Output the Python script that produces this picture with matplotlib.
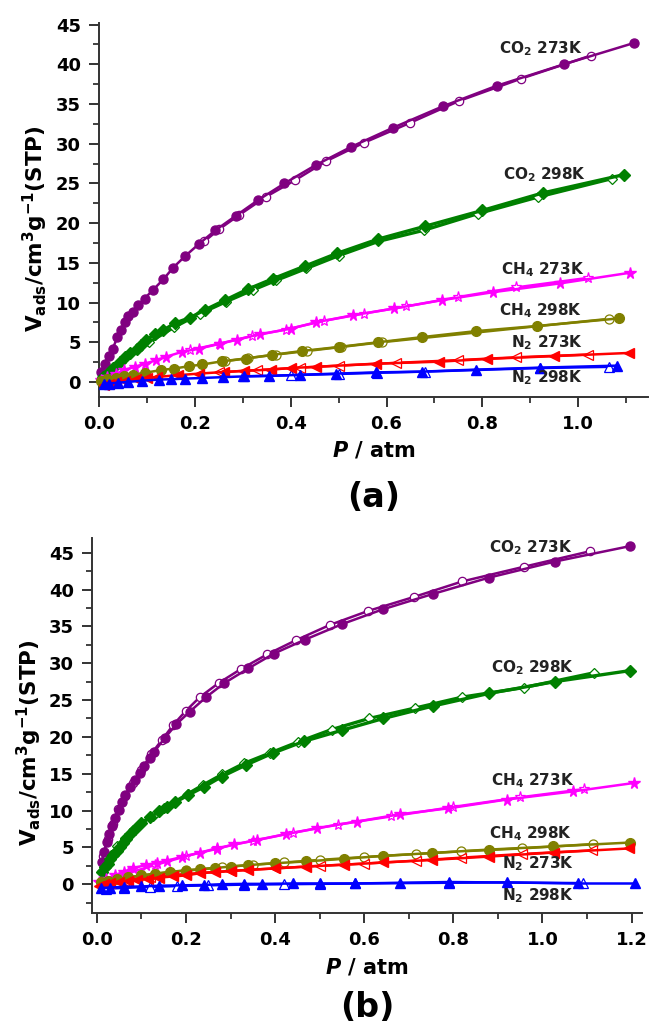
import matplotlib
matplotlib.use('Agg')
import matplotlib.pyplot as plt
from matplotlib.ticker import MultipleLocator

plt.rcParams['font.family'] = ['DejaVu Sans']
plt.rcParams['font.weight'] = 'bold'
plt.rcParams['mathtext.default'] = 'bf'

# ---------------- panel (a) ----------------
a_co2_273_ads_x = [0.005, 0.012, 0.02, 0.029, 0.038, 0.045, 0.054, 0.061, 0.071, 0.082, 0.095, 0.113, 0.134, 0.155, 0.179, 0.209, 0.243, 0.285, 0.332, 0.387, 0.452, 0.526, 0.613, 0.717, 0.830, 0.970, 1.117]
a_co2_273_ads_y = [1.3, 2.3, 3.3, 4.2, 5.6, 6.5, 7.6, 8.3, 8.8, 9.7, 10.5, 11.6, 12.9, 14.4, 15.8, 17.4, 19.1, 20.9, 22.9, 25.0, 27.3, 29.6, 32.0, 34.7, 37.3, 40.0, 42.7]
a_co2_273_des_x = [1.026, 0.881, 0.752, 0.648, 0.552, 0.474, 0.409, 0.348, 0.292, 0.250, 0.220]
a_co2_273_des_y = [41.1, 38.2, 35.4, 32.6, 30.1, 27.8, 25.4, 23.3, 21.0, 19.2, 17.7]

a_co2_298_ads_x = [0.008, 0.017, 0.03, 0.043, 0.055, 0.065, 0.079, 0.087, 0.099, 0.116, 0.134, 0.158, 0.19, 0.222, 0.263, 0.311, 0.363, 0.43, 0.497, 0.583, 0.68, 0.8, 0.926, 1.095]
a_co2_298_ads_y = [0.6, 1.05, 1.8, 2.5, 3.1, 3.6, 4.2, 4.6, 5.3, 6.0, 6.5, 7.4, 8.1, 9.1, 10.3, 11.7, 13.0, 14.6, 16.2, 18.0, 19.6, 21.6, 23.8, 26.1]
a_co2_298_des_x = [1.07, 0.917, 0.791, 0.678, 0.583, 0.5, 0.433, 0.37, 0.322, 0.265, 0.211, 0.157, 0.105]
a_co2_298_des_y = [25.6, 23.3, 21.2, 19.1, 17.7, 15.9, 14.3, 12.8, 11.6, 10.1, 8.6, 6.9, 5.0]

a_ch4_273_ads_x = [0.005, 0.017, 0.035, 0.052, 0.075, 0.096, 0.118, 0.139, 0.174, 0.209, 0.252, 0.287, 0.335, 0.4, 0.452, 0.53, 0.616, 0.716, 0.822, 0.961, 1.108]
a_ch4_273_ads_y = [0.2, 0.6, 1.0, 1.5, 1.9, 2.3, 2.7, 3.15, 3.8, 4.2, 4.8, 5.3, 6.0, 6.7, 7.5, 8.4, 9.25, 10.3, 11.3, 12.4, 13.75]
a_ch4_273_des_x = [1.02, 0.87, 0.75, 0.64, 0.552, 0.47, 0.39, 0.32, 0.25, 0.19]
a_ch4_273_des_y = [13.1, 11.9, 10.7, 9.5, 8.6, 7.7, 6.6, 5.8, 4.8, 4.0]

a_ch4_298_ads_x = [0.005, 0.017, 0.035, 0.052, 0.071, 0.096, 0.13, 0.156, 0.187, 0.216, 0.257, 0.306, 0.361, 0.424, 0.5, 0.583, 0.675, 0.787, 0.915, 1.085]
a_ch4_298_ads_y = [0.1, 0.35, 0.55, 0.75, 0.92, 1.15, 1.5, 1.68, 1.97, 2.2, 2.6, 2.95, 3.4, 3.9, 4.4, 5.0, 5.65, 6.4, 7.05, 8.0]
a_ch4_298_des_x = [1.065, 0.59, 0.505, 0.435, 0.37, 0.312, 0.263]
a_ch4_298_des_y = [7.95, 5.0, 4.4, 3.9, 3.45, 3.0, 2.6]

a_n2_273_ads_x = [0.01, 0.02, 0.035, 0.055, 0.078, 0.1, 0.122, 0.165, 0.209, 0.26, 0.303, 0.36, 0.4, 0.452, 0.578, 0.71, 0.81, 0.95, 1.106]
a_n2_273_ads_y = [-0.4, -0.3, 0.0, 0.15, 0.34, 0.5, 0.63, 0.85, 1.05, 1.25, 1.4, 1.55, 1.75, 1.9, 2.3, 2.55, 2.9, 3.25, 3.65]
a_n2_273_des_x = [1.02, 0.87, 0.75, 0.62, 0.5, 0.42, 0.33, 0.25]
a_n2_273_des_y = [3.45, 3.1, 2.75, 2.4, 2.05, 1.8, 1.5, 1.2]

a_n2_298_ads_x = [0.01, 0.02, 0.04, 0.06, 0.09, 0.125, 0.15, 0.18, 0.216, 0.258, 0.303, 0.355, 0.42, 0.495, 0.578, 0.675, 0.787, 0.92, 1.08]
a_n2_298_ads_y = [-0.25, -0.2, -0.1, 0.0, 0.15, 0.3, 0.34, 0.42, 0.5, 0.6, 0.7, 0.75, 0.9, 1.05, 1.2, 1.3, 1.55, 1.8, 2.05]
a_n2_298_des_x = [1.065, 0.92, 0.68, 0.58, 0.5, 0.4, 0.3]
a_n2_298_des_y = [1.9, 1.75, 1.3, 1.15, 1.0, 0.85, 0.7]

# ---------------- panel (b) ----------------
b_co2_273_ads_x = [0.011, 0.016, 0.022, 0.028, 0.034, 0.041, 0.049, 0.056, 0.064, 0.075, 0.086, 0.096, 0.106, 0.118, 0.129, 0.153, 0.178, 0.208, 0.245, 0.286, 0.34, 0.397, 0.467, 0.55, 0.641, 0.754, 0.879, 1.028, 1.197]
b_co2_273_ads_y = [3.0, 4.4, 5.7, 6.8, 7.9, 9.0, 10.1, 11.1, 12.1, 13.2, 14.2, 15.1, 16.0, 17.1, 18.0, 19.9, 21.7, 23.4, 25.4, 27.3, 29.3, 31.3, 33.2, 35.3, 37.3, 39.4, 41.6, 43.8, 45.9]
b_co2_273_des_x = [1.107, 0.959, 0.82, 0.712, 0.609, 0.523, 0.446, 0.382, 0.323, 0.273, 0.231, 0.199, 0.171, 0.146, 0.122, 0.1, 0.08, 0.063, 0.048, 0.035, 0.024, 0.014]
b_co2_273_des_y = [45.2, 43.1, 41.1, 39.0, 37.1, 35.2, 33.1, 31.2, 29.2, 27.3, 25.4, 23.5, 21.6, 19.6, 17.7, 15.5, 13.7, 12.0, 10.2, 8.2, 6.2, 3.8]

b_co2_298_ads_x = [0.012, 0.018, 0.024, 0.03, 0.037, 0.044, 0.051, 0.058, 0.066, 0.075, 0.086, 0.1, 0.12, 0.14, 0.157, 0.175, 0.205, 0.24, 0.28, 0.335, 0.395, 0.465, 0.55, 0.643, 0.755, 0.88, 1.028, 1.197]
b_co2_298_ads_y = [1.7, 2.3, 2.8, 3.4, 4.0, 4.5, 5.1, 5.6, 6.1, 6.8, 7.5, 8.3, 9.1, 9.9, 10.5, 11.1, 12.1, 13.2, 14.6, 16.2, 17.8, 19.4, 20.9, 22.5, 24.2, 25.9, 27.5, 29.0]
b_co2_298_des_x = [1.116, 0.959, 0.82, 0.713, 0.611, 0.527, 0.451, 0.388, 0.33, 0.281, 0.239, 0.205, 0.175, 0.15, 0.125, 0.1, 0.08, 0.062, 0.046, 0.032, 0.02, 0.012]
b_co2_298_des_y = [28.7, 26.7, 25.4, 23.9, 22.5, 21.0, 19.3, 17.8, 16.4, 14.9, 13.5, 12.3, 11.2, 10.3, 9.3, 8.3, 7.3, 6.3, 5.2, 4.0, 2.8, 1.8]

b_ch4_273_ads_x = [0.005, 0.02, 0.04, 0.06, 0.082, 0.11, 0.135, 0.157, 0.19, 0.232, 0.27, 0.307, 0.36, 0.425, 0.495, 0.583, 0.68, 0.789, 0.92, 1.069, 1.206]
b_ch4_273_ads_y = [0.3, 0.7, 1.2, 1.7, 2.2, 2.6, 2.9, 3.2, 3.7, 4.3, 4.8, 5.4, 6.0, 6.8, 7.6, 8.5, 9.5, 10.3, 11.5, 12.6, 13.75]
b_ch4_273_des_x = [1.093, 0.95, 0.8, 0.66, 0.54, 0.44, 0.35, 0.27, 0.2, 0.13, 0.07]
b_ch4_273_des_y = [12.9, 11.8, 10.5, 9.2, 8.1, 7.0, 5.9, 4.9, 3.8, 2.6, 1.5]

b_ch4_298_ads_x = [0.01, 0.025, 0.045, 0.07, 0.1, 0.13, 0.165, 0.2, 0.232, 0.265, 0.3, 0.34, 0.4, 0.47, 0.555, 0.643, 0.752, 0.879, 1.024, 1.197]
b_ch4_298_ads_y = [0.3, 0.5, 0.7, 0.95, 1.2, 1.4, 1.65, 1.85, 2.0, 2.2, 2.4, 2.6, 2.85, 3.1, 3.45, 3.85, 4.24, 4.7, 5.13, 5.66]
b_ch4_298_des_x = [1.113, 0.953, 0.816, 0.716, 0.6, 0.5, 0.42, 0.35, 0.28, 0.2, 0.13, 0.06]
b_ch4_298_des_y = [5.45, 4.86, 4.46, 4.1, 3.7, 3.3, 2.95, 2.65, 2.3, 1.9, 1.45, 0.8]

b_n2_273_ads_x = [0.005, 0.015, 0.03, 0.05, 0.07, 0.09, 0.115, 0.14, 0.17, 0.2, 0.232, 0.265, 0.3, 0.34, 0.4, 0.47, 0.555, 0.643, 0.752, 0.879, 1.025, 1.195]
b_n2_273_ads_y = [-0.2, 0.0, 0.15, 0.3, 0.45, 0.6, 0.75, 0.9, 1.05, 1.2, 1.5, 1.65, 1.8, 1.95, 2.15, 2.4, 2.65, 2.95, 3.3, 3.75, 4.3, 4.86]
b_n2_273_des_x = [1.11, 0.953, 0.816, 0.716, 0.6, 0.5, 0.4, 0.3, 0.2, 0.12, 0.06, 0.02]
b_n2_273_des_y = [4.6, 4.1, 3.6, 3.2, 2.8, 2.5, 2.15, 1.8, 1.4, 1.0, 0.5, 0.1]

b_n2_298_ads_x = [0.01, 0.03, 0.06, 0.1, 0.14, 0.19, 0.24, 0.28, 0.33, 0.37, 0.44, 0.5, 0.58, 0.68, 0.79, 0.92, 1.08, 1.207]
b_n2_298_ads_y = [-0.5, -0.45, -0.35, -0.3, -0.2, -0.15, -0.1, 0.0, 0.05, 0.05, 0.1, 0.1, 0.1, 0.15, 0.2, 0.25, 0.1, 0.1]
b_n2_298_des_x = [1.09, 0.79, 0.58, 0.5, 0.42, 0.33, 0.25, 0.18, 0.12, 0.06, 0.02]
b_n2_298_des_y = [0.15, 0.3, 0.1, 0.05, 0.0, -0.05, -0.15, -0.25, -0.35, -0.5, -0.6]

labels = ['CO$_2$ 273K', 'CO$_2$ 298K', 'CH$_4$ 273K', 'CH$_4$ 298K', 'N$_2$ 273K', 'N$_2$ 298K']
colors = ['#800080', '#008000', '#ff00ff', '#808000', '#ff0000', '#0000ff']
markers = ['o', 'D', '*', 'o', '<', '^']
msizes = [6.5, 6, 8.5, 7, 7, 7]
lwidths = [1.8, 2.4, 1.8, 1.8, 1.8, 1.8]

a_series = [
    (a_co2_273_ads_x, a_co2_273_ads_y, a_co2_273_des_x, a_co2_273_des_y),
    (a_co2_298_ads_x, a_co2_298_ads_y, a_co2_298_des_x, a_co2_298_des_y),
    (a_ch4_273_ads_x, a_ch4_273_ads_y, a_ch4_273_des_x, a_ch4_273_des_y),
    (a_ch4_298_ads_x, a_ch4_298_ads_y, a_ch4_298_des_x, a_ch4_298_des_y),
    (a_n2_273_ads_x, a_n2_273_ads_y, a_n2_273_des_x, a_n2_273_des_y),
    (a_n2_298_ads_x, a_n2_298_ads_y, a_n2_298_des_x, a_n2_298_des_y),
]
b_series = [
    (b_co2_273_ads_x, b_co2_273_ads_y, b_co2_273_des_x, b_co2_273_des_y),
    (b_co2_298_ads_x, b_co2_298_ads_y, b_co2_298_des_x, b_co2_298_des_y),
    (b_ch4_273_ads_x, b_ch4_273_ads_y, b_ch4_273_des_x, b_ch4_273_des_y),
    (b_ch4_298_ads_x, b_ch4_298_ads_y, b_ch4_298_des_x, b_ch4_298_des_y),
    (b_n2_273_ads_x, b_n2_273_ads_y, b_n2_273_des_x, b_n2_273_des_y),
    (b_n2_298_ads_x, b_n2_298_ads_y, b_n2_298_des_x, b_n2_298_des_y),
]

# label anchors (x, y of text baseline) in data units
a_label_x = [0.835, 0.843, 0.838, 0.834, 0.86, 0.86]
a_label_y = [41.4, 25.5, 13.6, 8.4, 4.4, 0.0]
b_label_x = [0.88, 0.884, 0.884, 0.88, 0.908, 0.908]
b_label_y = [45.1, 28.8, 13.4, 6.3, 2.1, -2.2]

fig = plt.figure(figsize=(6.49, 10.28), dpi=100)
ax_a = fig.add_axes([0.1525, 0.6138, 0.8455, 0.3638])
ax_b = fig.add_axes([0.1418, 0.1119, 0.8472, 0.3648])


def style_axes(ax, xlim, ylim, xmajor):
    ax.set_xlim(*xlim)
    ax.set_ylim(*ylim)
    for s in ['top', 'right']:
        ax.spines[s].set_visible(False)
    for s in ['left', 'bottom']:
        ax.spines[s].set_linewidth(1.4)
        ax.spines[s].set_color('#333333')
    ax.xaxis.set_major_locator(MultipleLocator(xmajor))
    ax.xaxis.set_minor_locator(MultipleLocator(0.1))
    ax.yaxis.set_major_locator(MultipleLocator(5))
    ax.yaxis.set_minor_locator(MultipleLocator(2.5))
    ax.tick_params(which='major', direction='out', length=7, width=1.4, color='#333333',
                   labelsize=13, pad=6)
    ax.tick_params(which='minor', direction='out', length=4, width=1.3, color='#333333')
    for lab in ax.get_xticklabels() + ax.get_yticklabels():
        lab.set_fontweight('bold')


def draw(ax, series, lx, ly):
    for i, (xa, ya, xd, yd) in enumerate(series):
        c = colors[i]
        ax.plot(xd, yd, '-', color=c, lw=lwidths[i], marker=markers[i], ms=msizes[i] - 0.5,
                mfc='white', mec=c, mew=0.9, clip_on=False, zorder=2)
        ax.plot(xa, ya, '-', color=c, lw=lwidths[i], marker=markers[i], ms=msizes[i],
                mfc=c, mec=c, clip_on=False, zorder=3)
        ax.text(lx[i], ly[i], labels[i], fontsize=11, fontweight='bold',
                color='#222222', ha='left', va='baseline', zorder=4)


draw(ax_a, a_series, a_label_x, a_label_y)
draw(ax_b, b_series, b_label_x, b_label_y)
style_axes(ax_a, (0.0, 1.145), (-1.9, 45.2), 0.2)
style_axes(ax_b, (-0.011, 1.223), (-3.9, 47.0), 0.2)
ax_b.set_xticks([0.0, 0.2, 0.4, 0.6, 0.8, 1.0, 1.2])
ax_b.set_xticklabels(['0.0', '0.2', '0.4', '0.6', '0.8', '1.0', '1.2'], fontweight='bold')
ax_a.set_xticks([0.0, 0.2, 0.4, 0.6, 0.8, 1.0])
ax_a.set_xticklabels(['0.0', '0.2', '0.4', '0.6', '0.8', '1.0'], fontweight='bold')

ylab = r'V$_{ads}$/cm$^{3}$g$^{-1}$(STP)'
fig.text(0.054, 0.778, ylab, rotation=90, ha='center', va='center', fontsize=15.5, fontweight='bold')
fig.text(0.046, 0.278, ylab, rotation=90, ha='center', va='center', fontsize=15.5, fontweight='bold')

xlab = r'$\bfit{P}$ / atm'
fig.text(0.5755, 0.562, xlab, ha='center', va='center', fontsize=15, fontweight='bold')
fig.text(0.5655, 0.0593, xlab, ha='center', va='center', fontsize=15, fontweight='bold')

fig.text(0.5755, 0.5165, '(a)', ha='center', va='center', fontsize=24, fontweight='bold')
fig.text(0.5655, 0.0195, '(b)', ha='center', va='center', fontsize=24, fontweight='bold')

fig.savefig('out.png', dpi=100)
